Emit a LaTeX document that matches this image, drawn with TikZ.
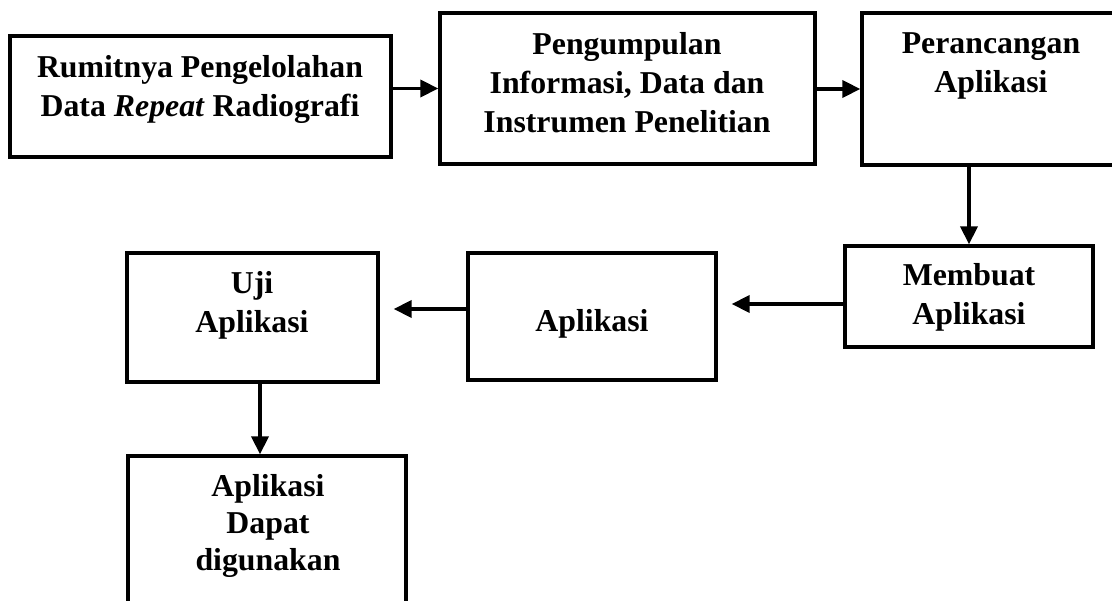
\documentclass[tikz,border=0pt]{standalone}
\usepackage{fontspec}
\setmainfont{Liberation Serif}
\usetikzlibrary{arrows.meta,calc}
\begin{document}
\begin{tikzpicture}[x=1pt,y=-1pt,
  boxstyle/.style={draw,line width=3.3pt,inner sep=0pt},
  txt/.style={align=center,anchor=base,inner sep=0pt,font=\bfseries\fontsize{31.8}{39}\selectfont},
  conn/.style={line width=3.6pt,-{Triangle[length=18pt,width=17pt]}}]
\useasboundingbox (0,0) rectangle (1112,601);
\clip (0,0) rectangle (1112,601);
% boxes
\node[boxstyle,minimum width=381pt,minimum height=121pt] (b1) at (200.5,96.5) {};
\node[boxstyle,minimum width=375pt,minimum height=151pt] (b2) at (627.5,88.5) {};
\node[boxstyle,minimum width=252pt,minimum height=152pt] (b3) at (988,89) {};
\node[boxstyle,minimum width=248pt,minimum height=101pt] (b4) at (969,296.5) {};
\node[boxstyle,minimum width=248pt,minimum height=127pt] (b5) at (592,316.5) {};
\node[boxstyle,minimum width=251pt,minimum height=129pt] (b6) at (252.5,317.5) {};
\node[boxstyle,minimum width=278pt,minimum height=170pt] (b7) at (267,541) {};
% texts (anchor = baseline of the last line)
\node[txt] (t1) at (200,117) {Rumitnya Pengelolahan\\Data \textit{Repeat} Radiografi};
\node[txt] (t2) at (627,133) {Pengumpulan\\Informasi, Data dan\\Instrumen Penelitian};
\node[txt] (t3) at (991,93) {Perancangan\\Aplikasi};
\node[txt] (t4) at (969,325) {Membuat\\Aplikasi};
\node[txt] (t5) at (592,332) {Aplikasi};
\node[txt] (t6) at (252,333) {Uji\\Aplikasi};
\node[txt,font=\bfseries\fontsize{31.8}{37}\selectfont] (t7) at (268,571) {Aplikasi\\Dapat\\digunakan};
% connectors
\draw[conn] (b1.east |- b2.west) -- (b2.west);
\draw[conn] (b2.east |- b3.west) -- (b3.west);
\draw[conn] (b3.south -| b4.north) -- (b4.north);
\coordinate (c4) at ($(b4.west)+(0,7.5)$);
\draw[conn,shorten >=14pt] (c4) -- (b5.east |- c4);
\coordinate (c5) at ($(b5.west)+(0,-7.5)$);
\draw[conn,shorten >=14pt] (c5) -- (b6.east |- c5);
\coordinate (c6) at ($(b6.south)+(7.5,0)$);
\draw[conn] (c6) -- (b7.north -| c6);
\end{tikzpicture}
\end{document}
